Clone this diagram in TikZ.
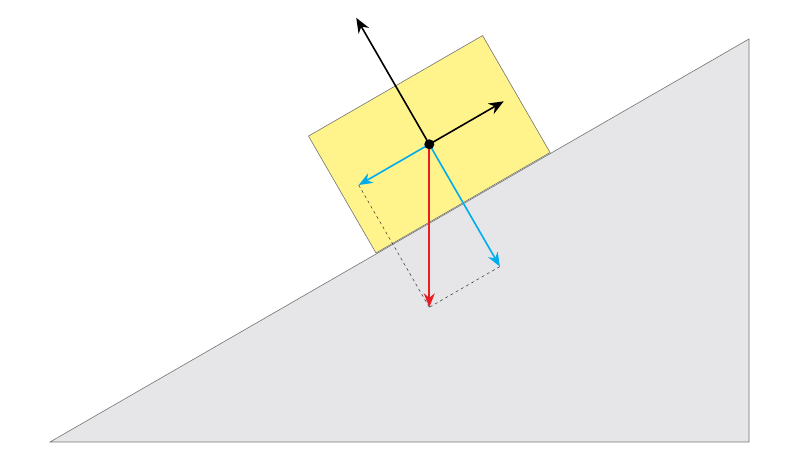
\documentclass[tikz,border=0pt]{standalone}
\usepackage[dvipsnames]{xcolor}
\usetikzlibrary{arrows.meta, calc}
\definecolor{wedgegray}{RGB}{230,230,232}
\definecolor{boxyellow}{RGB}{255,244,140}
\definecolor{compblue}{RGB}{0,172,236}
\definecolor{gravred}{RGB}{236,28,36}

\begin{document}
\begin{tikzpicture}[
  x=1pt, y=1pt, >=Stealth,
  ground/.style  = {fill=wedgegray, draw=black!55, line width=0.6pt},
  block/.style   = {rectangle, fill=boxyellow, draw=black!55, line width=0.6pt,
                    minimum width=201pt, minimum height=135pt,
                    inner sep=0pt, outer sep=0pt},
  vecblack/.style = {draw=black, line width=1.6pt,
                     -{Stealth[length=15pt, width=12pt]}},
  vecblue/.style  = {draw=compblue, line width=1.6pt,
                     -{Stealth[length=14pt, width=11pt, fill=compblue]}},
  vecred/.style   = {draw=gravred, line width=1.6pt,
                     -{Stealth[length=14pt, width=11pt, fill=gravred]}},
  helper/.style  = {draw=black!80, line width=0.5pt, dash pattern=on 3pt off 3pt}
]
  \useasboundingbox (0,0) rectangle (800,460);

  % incline
  \coordinate (foot) at (50,18);
  \coordinate (base) at (749,18);
  \coordinate (top)  at (749,421);
  \draw[ground] (foot) -- (base) -- (top) -- cycle;

  % box resting on the slope
  \node[block, rotate=30, anchor=south west] (box) at (376,207) {};
  \coordinate (c) at (box.center);

  % force ends
  \coordinate (N)  at ($(c)+(120:146)$);
  \coordinate (F)  at ($(c)+(30:86)$);
  \coordinate (G)  at ($(c)+(0,-163)$);
  \coordinate (Gx) at ($(c)+(210:81.5)$);
  \coordinate (Gy) at ($(c)+(300:141.2)$);

  \draw[helper] (Gx) -- (G);
  \draw[helper] (Gy) -- (G);

  \draw[vecblue]  (c) -- (Gx);
  \draw[vecblue]  (c) -- (Gy);
  \draw[vecblack] (c) -- (N);
  \draw[vecblack] (c) -- (F);
  \draw[vecred]   (c) -- (G);

  \node[circle, fill=black, inner sep=0pt, minimum size=10pt] (dot) at (c) {};
\end{tikzpicture}
\end{document}
